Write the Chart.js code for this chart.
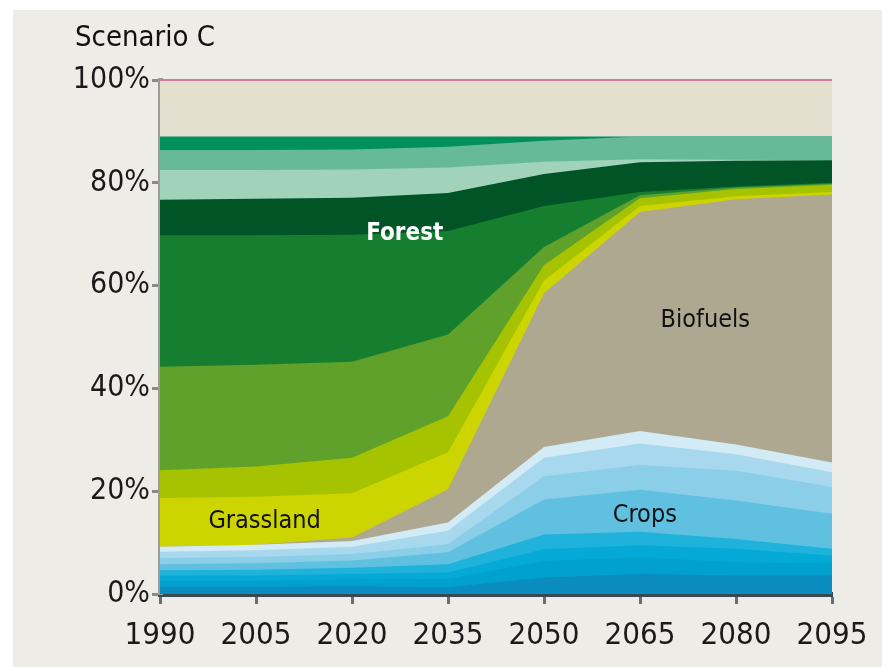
<!DOCTYPE html>
<html>
<head>
<meta charset="utf-8">
<script src="https://cdn.jsdelivr.net/npm/chart.js@4/dist/chart.umd.min.js"></script>
<style>
  html, body { margin: 0; background: #fff; }
  canvas { display: block; }
</style>
</head>
<body>
<canvas id="chart" width="882" height="667"></canvas>
<script>
// Anos no eixo x
const years = ["1990", "2005", "2020", "2035", "2050", "2065", "2080", "2095"]

// Crops (de baixo para cima, azul escuro -> azul claro), % da área
const crops1 = [1.4, 1.4, 1.5, 1.3, 3.2, 3.9, 3.6, 3.6]
const crops2 = [1.2, 1.2, 1.3, 1.6, 3.2, 3.2, 2.6, 2.3]
const crops3 = [1.0, 1.0, 1.1, 1.3, 2.3, 2.4, 2.6, 1.6]
const crops4 = [1.0, 1.1, 1.2, 1.6, 2.9, 2.6, 1.9, 1.3]
const crops5 = [1.2, 1.3, 1.4, 2.3, 6.8, 8.2, 7.5, 6.8]
const crops6 = [1.2, 1.2, 1.3, 1.6, 4.5, 4.8, 5.8, 5.2]
const crops7 = [1.2, 1.3, 1.4, 2.6, 3.6, 4.2, 3.2, 2.9]
const crops8 = [1.0, 1.1, 1.1, 1.6, 2.1, 2.4, 1.9, 1.9]

// Biofuels
const biofuels = [0, 0, 0.7, 6.5, 29.9, 42.6, 47.7, 52.1]

// Grassland (amarelo, verde-limão, verde médio)
const grassYellow = [9.5, 9.3, 8.6, 7.2, 2.5, 1.2, 0.6, 0.5]
const grassLime = [5.4, 5.9, 6.9, 7.0, 3.0, 1.5, 1.4, 1.4]
const grassGreen = [20.1, 19.8, 18.7, 15.9, 3.5, 0.6, 0.3, 0.2]

// Forest
const forestMain = [25.6, 25.2, 24.7, 20.1, 8.0, 0.6, 0.2, 0.2]
const forestDark = [6.9, 7.1, 7.2, 7.4, 6.2, 5.8, 5.0, 4.4]
const forestPale = [5.8, 5.6, 5.5, 5.0, 2.4, 0.6, 0.2, 0]
const forestMid = [3.9, 3.9, 3.9, 4.0, 4.1, 4.4, 4.5, 4.6]
const forestTeal = [2.6, 2.6, 2.5, 2.0, 0.8, 0, 0, 0]

// Restante (topo)
const other = [11, 11, 11, 11, 11, 11, 11, 11]

const layers = [
  { label: "Crops 1", data: crops1, color: "#0A8DBE" },
  { label: "Crops 2", data: crops2, color: "#00A0CF" },
  { label: "Crops 3", data: crops3, color: "#04A9D6" },
  { label: "Crops 4", data: crops4, color: "#1FB3DB" },
  { label: "Crops 5", data: crops5, color: "#60C0E0" },
  { label: "Crops 6", data: crops6, color: "#8BCEE8" },
  { label: "Crops 7", data: crops7, color: "#A8D8EE" },
  { label: "Crops 8", data: crops8, color: "#D2EBF5" },
  { label: "Biofuels", data: biofuels, color: "#AFA890" },
  { label: "Grassland 1", data: grassYellow, color: "#CDD500" },
  { label: "Grassland 2", data: grassLime, color: "#A5C300" },
  { label: "Grassland 3", data: grassGreen, color: "#5FA12A" },
  { label: "Forest 1", data: forestMain, color: "#167F2F" },
  { label: "Forest 2", data: forestDark, color: "#005426" },
  { label: "Forest 3", data: forestPale, color: "#A0D3B9" },
  { label: "Forest 4", data: forestMid, color: "#66BA98" },
  { label: "Forest 5", data: forestTeal, color: "#00905D" },
  { label: "Other", data: other, color: "#E5DFCF" },
]

// Rótulos dentro das áreas (posição em índice de ano / %)
const areaLabels = [
  { text: "Forest", x: 2.55, y: 70, color: "#ffffff", bold: true },
  { text: "Biofuels", x: 5.68, y: 53.3, color: "#111111" },
  { text: "Grassland", x: 1.09, y: 14.2, color: "#111111" },
  { text: "Crops", x: 5.05, y: 15.2, color: "#111111" },
]

const FONT = "'DejaVu Sans Condensed', 'Liberation Sans Narrow', sans-serif"

// Fundo cinza claro com borda branca
const background = {
  id: "background",
  beforeDraw(chart) {
    const ctx = chart.ctx
    ctx.save()
    ctx.fillStyle = "#ffffff"
    ctx.fillRect(0, 0, chart.width, chart.height)
    ctx.fillStyle = "#EDECE7"
    ctx.fillRect(13, 10, chart.width - 13, chart.height - 10)
    ctx.restore()
  },
}

// Título, linha rosa em 100% e rótulos das áreas
const overlay = {
  id: "overlay",
  afterDatasetsDraw(chart) {
    const ctx = chart.ctx
    const xs = chart.scales.x
    const ys = chart.scales.y
    const area = chart.chartArea
    ctx.save()

    const top = ys.getPixelForValue(100)
    ctx.strokeStyle = "#D9779F"
    ctx.lineWidth = 2
    ctx.beginPath()
    ctx.moveTo(area.left, top)
    ctx.lineTo(area.right, top)
    ctx.stroke()

    ctx.textAlign = "center"
    ctx.textBaseline = "middle"
    areaLabels.forEach((l) => {
      ctx.font = (l.bold ? "bold 24px " : "25px ") + FONT
      ctx.fillStyle = l.color
      ctx.fillText(l.text, xs.getPixelForValue(l.x), ys.getPixelForValue(l.y))
    })

    ctx.textAlign = "left"
    ctx.font = "29px " + FONT
    ctx.fillStyle = "#111111"
    ctx.fillText("Scenario C", 75, 38)
    ctx.restore()
  },
}

const ctx = document.getElementById("chart").getContext("2d")

new Chart(ctx, {
  type: "line",
  data: {
    labels: years,
    datasets: layers.map((l) => ({
      label: l.label,
      data: l.data,
      backgroundColor: l.color,
      borderColor: "rgba(0,0,0,0)",
      borderWidth: 0,
      pointRadius: 0,
      tension: 0,
      fill: "origin",
    })),
  },
  options: {
    responsive: false,
    animation: false,
    layout: { padding: { top: 80, right: 50, left: 0, bottom: 0 } },
    plugins: {
      legend: { display: false },
      tooltip: { enabled: false },
    },
    scales: {
      x: {
        offset: false,
        afterFit: (s) => { s.height = 73 },
        grid: {
          drawOnChartArea: false,
          tickLength: 10,
          tickColor: "#6d6d6d",
          tickWidth: 3,
        },
        border: { color: "#3A4A55", width: 5 },
        ticks: {
          color: "#1a1a1a",
          font: { family: FONT, size: 31 },
          maxRotation: 0,
          autoSkip: false,
          padding: 13,
        },
      },
      y: {
        stacked: true,
        min: 0,
        max: 100,
        afterFit: (s) => { s.width = 160 },
        grid: {
          drawOnChartArea: false,
          tickLength: 8,
          tickColor: "#8a8a8a",
          tickWidth: 3,
        },
        border: { color: "#9B9B9B", width: 5 },
        ticks: {
          stepSize: 20,
          color: "#1a1a1a",
          font: { family: FONT, size: 30 },
          padding: 2,
          callback: (v) => v + "%",
        },
      },
    },
  },
  plugins: [background, overlay],
})
</script>
</body>
</html>
